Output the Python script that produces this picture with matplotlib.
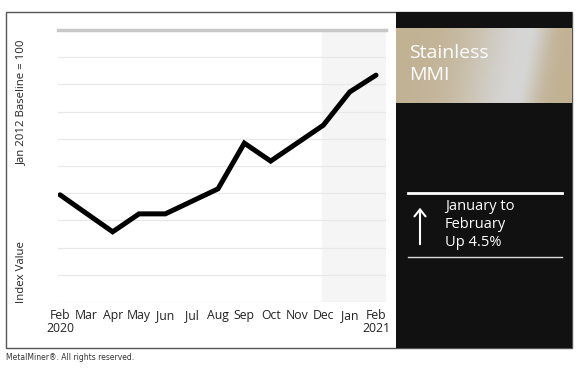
import numpy as np
import matplotlib
matplotlib.use("Agg")
import matplotlib.pyplot as plt
from matplotlib.patches import Rectangle, FancyArrowPatch
from matplotlib.lines import Line2D

# Data (index value, Jan 2012 = 100)
months = ["Feb\n2020", "Mar", "Apr", "May", "Jun", "Jul", "Aug", "Sep",
          "Oct", "Nov", "Dec", "Jan", "Feb\n2021"]
point_month = [0, 2, 3, 4, 6, 7, 8, 10, 11, 12]
point_value = [69.7, 62.9, 66.2, 66.2, 70.8, 79.2, 75.9, 82.5, 88.6, 91.7]
title_text = "Stainless\nMMI"
change_text = "January to\nFebruary\nUp 4.5%"

W, H = 580, 369
fig = plt.figure(figsize=(W / 100, H / 100), dpi=100)
fig.patch.set_facecolor("white")


def box(x0, y0, x1, y1):
    """pixel box (top-left origin) -> figure fraction rect"""
    return [x0 / W, 1 - y1 / H, (x1 - x0) / W, (y1 - y0) / H]


font = "Open Sans"

# chart area
ax = fig.add_axes(box(58, 30, 386, 302))
ax.set_xlim(-0.076, 12.38)
ax.set_ylim(50, 100)
for s in ax.spines.values():
    s.set_visible(False)
ax.axvspan(9.95, 12.38, color="#f5f5f5", zorder=0, lw=0)
for yv in np.arange(50, 100, 5):
    ax.axhline(yv, color="#e8e8e8", lw=0.9, zorder=1)
ax.axhline(100, color="#c8c8c8", lw=2.5, zorder=1, clip_on=False)
ax.plot(point_month, point_value, color="black", lw=3.6,
        solid_joinstyle="miter", solid_capstyle="round", zorder=3)
ax.set_xticks(range(len(months)))
ax.set_xticklabels(months, fontsize=8.8, family=font, color="#222222",
                   linespacing=1.05)
ax.tick_params(axis="x", length=0, pad=5)
ax.set_yticks([])

# y-axis labels
fig.text(22 / W, 1 - 102 / H, "Jan 2012 Baseline = 100", rotation=90,
         ha="center", va="center", fontsize=8.2, family=font, color="#222222")
fig.text(22 / W, 1 - 272 / H, "Index Value", rotation=90,
         ha="center", va="center", fontsize=8.2, family=font, color="#222222")

# outer border
fig.patches.append(Rectangle((6 / W, 1 - 348 / H), 566 / W, 336 / H,
                             transform=fig.transFigure, fill=False,
                             ec="#555555", lw=1))

# black side panel
fig.patches.append(Rectangle((396 / W, 1 - 348 / H), 176 / W, 336 / H,
                             transform=fig.transFigure, fc="#111111",
                             ec="none", zorder=1))

# gold gradient band
band = fig.add_axes(box(396, 28, 572, 103), zorder=3)
band.axis("off")
gx, gy = np.meshgrid(np.linspace(0, 1, 300), np.linspace(0, 1, 60))
d = gx - (0.76 - 0.08 * gy)
shine = np.where(d < 0, np.exp(-(d / 0.32) ** 2), np.exp(-(d / 0.11) ** 2))
tan = np.array([194, 178, 148]) / 255
light = np.array([214, 214, 214]) / 255
img = tan * (1 - shine[..., None]) + light * shine[..., None]
band.imshow(img, aspect="auto", extent=[0, 1, 0, 1])
band.set_xlim(0, 1)
band.set_ylim(0, 1)
band.text(13 / 176, 1 - 16 / 75, title_text, ha="left", va="top",
          transform=band.transAxes, fontsize=14, family=font, color="white",
          linespacing=1.3)

# change box
fig.lines.append(Line2D([408 / W, 562 / W], [1 - 193 / H, 1 - 193 / H],
                        transform=fig.transFigure, color="white", lw=2, zorder=5))
fig.lines.append(Line2D([408 / W, 562 / W], [1 - 257 / H, 1 - 257 / H],
                        transform=fig.transFigure, color="#dddddd", lw=1, zorder=5))
fig.patches.append(FancyArrowPatch((420 / W, 1 - 247 / H), (420 / W, 1 - 205 / H),
                                   transform=fig.transFigure,
                                   arrowstyle="->,head_length=5,head_width=4",
                                   color="white", lw=1.5, zorder=5))
fig.text(445 / W, 1 - 199 / H, change_text, ha="left", va="top",
         fontsize=10.5, family=font, color="white", linespacing=1.28, zorder=5)

# footer
fig.text(6 / W, 1 - 358 / H, "MetalMiner\u00ae. All rights reserved.",
         ha="left", va="center", fontsize=5.5, family="DejaVu Sans",
         color="#333333")

fig.savefig("out.png", dpi=100)
